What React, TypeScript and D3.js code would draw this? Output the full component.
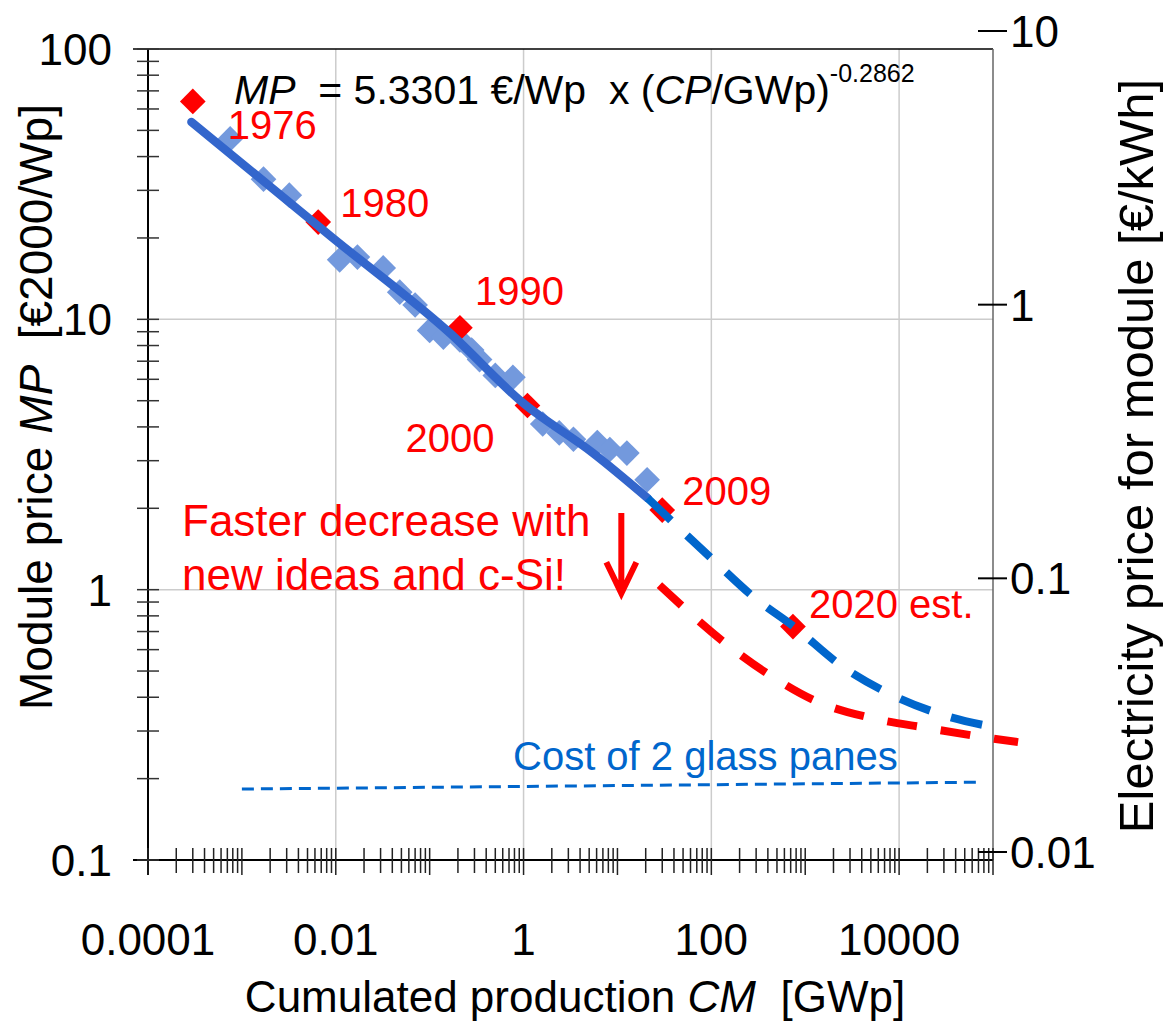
import React from 'react';
import * as d3 from 'd3';

// historic module prices (light blue diamonds)
const historyCP = [7.5e-4, 1.7e-3, 3.2e-3, 0.011, 0.017, 0.032, 0.048, 0.07, 0.1, 0.14, 0.21, 0.28, 0.34, 0.5, 0.77, 1.6, 2.4, 3.4, 6.1, 8.3, 12.6, 20.7];
const historyMP = [46.5, 33, 28.8, 16.6, 17, 15.5, 12.6, 11.3, 9.1, 8.6, 8.4, 7.7, 7.1, 6.2, 6.1, 4.1, 3.8, 3.6, 3.5, 3.3, 3.2, 2.55];

// marked years (red diamonds)
const yearLabels = ['1976', '1980', '1990', '2000', '2009', '2020 est.'];
const yearCP = [3.0e-4, 6.5e-3, 0.21, 1.1, 30, 740];
const yearMP = [64, 22.9, 9.3, 4.8, 1.97, 0.73];
const yearLabelOffsets = [[35, 38], [22, -5], [15, -23], [-122, 46], [20, -5], [16, -9]];

// learning curve fit (solid)
const fitCP = [2.9e-4, 9.3e-3, 0.164, 0.99, 5.5, 21];
const fitMP = [53.7, 20, 8.9, 4.9, 3.2, 2.18];

// extrapolation (blue dashed)
const trendCP = [21, 104, 292, 741, 2520, 8400, 29300, 113000];
const trendMP = [2.18, 1.29, 0.93, 0.734, 0.518, 0.408, 0.344, 0.308];

// faster decrease (red dashed)
const fastCP = [28, 140, 420, 1370, 5100, 19800, 78000, 185000];
const fastMP = [1.04, 0.635, 0.483, 0.384, 0.335, 0.308, 0.285, 0.273];

// cost of 2 glass panes
const glassCP = [0.001, 72600];
const glassMP = [0.183, 0.194];

// arrow
const arrowCP = 11;
const arrowFrom = 1.92;
const arrowTo = 0.97;

const xTickValues = [0.0001, 0.01, 1, 100, 10000];
const xTickLabels = ['0.0001', '0.01', '1', '100', '10000'];
const xGrid = [0.01, 1, 100, 10000];
const yTickValues = [100, 10, 1, 0.1];
const yTickLabels = ['100', '10', '1', '0.1'];
const yGrid = [10, 1];
const rTickValues = [10, 1, 0.1, 0.01];
const rTickLabels = ['10', '1', '0.1', '0.01'];

const FONT = 'Liberation Sans, Arial, sans-serif';
const RED = '#ff0000';

export default function App() {
  const width = 1163;
  const height = 1029;
  const x = d3.scaleLog().domain([1e-4, 1e5]).range([148, 993]);
  const y = d3.scaleLog().domain([0.1, 100]).range([860, 49]);
  const yr = d3.scaleLog().domain([0.01, 10]).range([852, 31]);

  const left = x.range()[0];
  const right = x.range()[1];
  const bottom = y.range()[0];
  const top = y.range()[1];

  const line = d3.line<[number, number]>()
    .x(d => x(d[0]))
    .y(d => y(d[1]))
    .curve(d3.curveMonotoneX);
  const straight = d3.line<[number, number]>()
    .x(d => x(d[0]))
    .y(d => y(d[1]));

  const zip = (a: number[], b: number[]) => a.map((v, i) => [v, b[i]] as [number, number]);

  const diamond = d3.symbol().type(d3.symbolSquare).size(330)();

  const xMinor = x.ticks();
  const yMinor = y.ticks();

  const ax = x(arrowCP);
  const ay0 = y(arrowFrom);
  const ay1 = y(arrowTo);

  return (
    <svg width={width} height={height} style={{ position: 'absolute', left: 0, top: 0, background: '#fff' }}
      fontFamily={FONT}>
      {/* grid */}
      {xGrid.map(v => (
        <line key={'gx' + v} x1={x(v)} x2={x(v)} y1={top} y2={bottom} stroke="#cccccc" strokeWidth={1.5} />
      ))}
      {yGrid.map(v => (
        <line key={'gy' + v} x1={left} x2={right} y1={y(v)} y2={y(v)} stroke="#cccccc" strokeWidth={1.5} />
      ))}

      {/* frame */}
      <line x1={left - 15} x2={right} y1={top} y2={top} stroke="#000" strokeWidth={1.5} />
      <line x1={right} x2={right} y1={top} y2={bottom} stroke="#666" strokeWidth={1.5} />
      <line x1={left} x2={left} y1={top} y2={bottom + 15} stroke="#000" strokeWidth={2} />
      <line x1={left - 15} x2={right} y1={bottom} y2={bottom} stroke="#000" strokeWidth={2} />

      {/* x ticks */}
      {xMinor.map((v, i) => {
        const major = Math.abs(Math.log10(v) - Math.round(Math.log10(v))) < 1e-9;
        return (
          <line key={'xt' + i} x1={x(v)} x2={x(v)} y1={bottom - 12} y2={bottom + (major ? 15 : 13)}
            stroke="#222" strokeWidth={1.5} />
        );
      })}
      {/* y ticks */}
      {yMinor.map((v, i) => (
        <line key={'yt' + i} x1={left - 11} x2={left + 11} y1={y(v)} y2={y(v)} stroke="#333" strokeWidth={1.5} />
      ))}
      {/* right ticks */}
      {rTickValues.map(v => (
        <line key={'rt' + v} x1={right - 15} x2={right + 14} y1={yr(v)} y2={yr(v)} stroke="#000" strokeWidth={2} />
      ))}

      {/* tick labels */}
      {xTickValues.map((v, i) => (
        <text key={'xl' + v} x={x(v)} y={955} textAnchor="middle" fontSize={44}>{xTickLabels[i]}</text>
      ))}
      {yTickValues.map((v, i) => (
        <text key={'yl' + v} x={112} y={y(v)} dy="0.36em" textAnchor="end" fontSize={44}>{yTickLabels[i]}</text>
      ))}
      {rTickValues.map((v, i) => (
        <text key={'rl' + v} x={1010} y={yr(v)} dy="0.36em" textAnchor="start" fontSize={44}>{rTickLabels[i]}</text>
      ))}

      {/* axis titles */}
      <text x={575} y={1012} textAnchor="middle" fontSize={44} style={{ whiteSpace: 'pre' }}>
        Cumulated production <tspan fontStyle="italic">CM</tspan>  [GWp]
      </text>
      <text transform="translate(52,407) rotate(-90)" textAnchor="middle" fontSize={46} style={{ whiteSpace: 'pre' }}>
        Module price <tspan fontStyle="italic">MP</tspan>  [€2000/Wp]
      </text>
      <text transform="translate(1153,456) rotate(-90)" textAnchor="middle" fontSize={49}>
        Electricity price for module [€/kWh]
      </text>

      {/* historic data */}
      {historyCP.map((v, i) => (
        <path key={'h' + i} d={diamond as string}
          transform={`translate(${x(v)},${y(historyMP[i])}) rotate(45)`} fill="#7399dd" />
      ))}
      {yearCP.map((v, i) => (
        <path key={'r' + i} d={diamond as string}
          transform={`translate(${x(v)},${y(yearMP[i])}) rotate(45)`} fill={RED} />
      ))}

      {/* lines */}
      <path d={line(zip(fitCP, fitMP)) as string} fill="none" stroke="#3366cc" strokeWidth={8.5} strokeLinecap="round" />
      <path d={line(zip(trendCP, trendMP)) as string} fill="none" stroke="#0066cc" strokeWidth={8}
        strokeDasharray="32 22" />
      <path d={line(zip(fastCP, fastMP)) as string} fill="none" stroke={RED} strokeWidth={8}
        strokeDasharray="30 24" />
      <path d={straight(zip(glassCP, glassMP)) as string} fill="none" stroke="#0066cc" strokeWidth={3}
        strokeDasharray="12 7" />

      {/* arrow */}
      <path d={`M${ax},${ay0}L${ax},${ay1}M${ax - 15},${ay1 - 31}L${ax},${ay1}L${ax + 15},${ay1 - 31}`}
        fill="none" stroke={RED} strokeWidth={6} />

      {/* year labels */}
      {yearLabels.map((t, i) => (
        <text key={'yl' + t} x={x(yearCP[i]) + yearLabelOffsets[i][0]} y={y(yearMP[i]) + yearLabelOffsets[i][1]}
          fill={RED} fontSize={40}>{t}</text>
      ))}

      {/* annotations */}
      <text x={182} fill={RED} fontSize={44}>
        <tspan x={182} y={536}>Faster decrease with</tspan>
        <tspan x={182} y={590}>new ideas and c-Si!</tspan>
      </text>
      <text x={513} y={770} fill="#0066cc" fontSize={40}>Cost of 2 glass panes</text>

      {/* formula */}
      <text x={234} y={104} fontSize={41} style={{ whiteSpace: 'pre' }}>
        <tspan fontStyle="italic">MP</tspan>  = 5.3301 €/Wp  x (<tspan fontStyle="italic">CP</tspan>/GWp)
        <tspan dy={-22} fontSize={25}>-0.2862</tspan>
      </text>
    </svg>
  );
}
